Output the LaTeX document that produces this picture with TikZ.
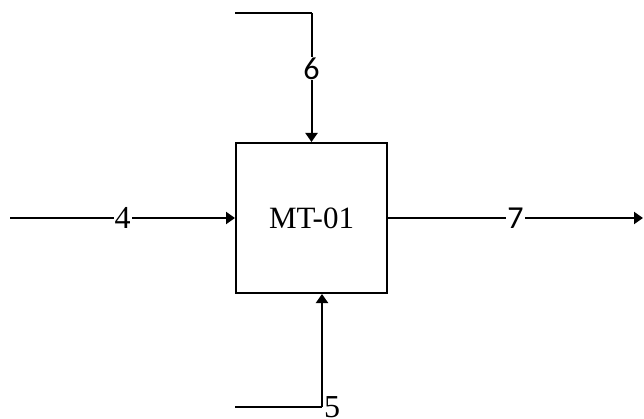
\documentclass[tikz,border=0pt]{standalone}
\usepackage{fontspec}
\setmainfont{Liberation Serif}
\newfontfamily\calfont{Carlito}
\usetikzlibrary{arrows.meta}
\tikzset{
  flow/.style={line width=2pt, -{Triangle[length=9pt,width=12pt]}},
  plain/.style={line width=2pt},
  lbl/.style={fill=white, inner sep=1pt, font=\fontsize{32}{32}\selectfont},
  lblsans/.style={fill=white, inner sep=1pt, font=\calfont\fontsize{32}{32}\selectfont}
}

\begin{document}
\begin{tikzpicture}[x=1pt,y=-1pt]
\useasboundingbox (0,0) rectangle (644,419);
\node[draw, line width=2pt, minimum width=151pt, minimum height=150pt,
  font=\fontsize{31}{31}\selectfont] (mt) at (311.5,218) {MT-01};
\coordinate (in4) at (10,218);
\coordinate (out7) at (643,218);
\coordinate (in6) at (235,13);
\coordinate (k6) at (311.5,13);
\coordinate (in5) at (235,407);
\coordinate (k5) at (322,407);
\draw[flow] (in4) -- node[lbl] {4} (mt);
\draw[flow] (mt) -- node[lblsans] {7} (out7);
\draw[plain] (in6) -- (k6);
\draw[flow] (k6) -- node[lblsans, pos=0.43] {6} (mt.north);
\draw[plain] (in5) -- (k5);
\draw[flow] (k5) -- (mt.south -| k5);
\node[lbl, anchor=west] (n5) at ([xshift=0.8pt]k5) {5};
\end{tikzpicture}
\end{document}
